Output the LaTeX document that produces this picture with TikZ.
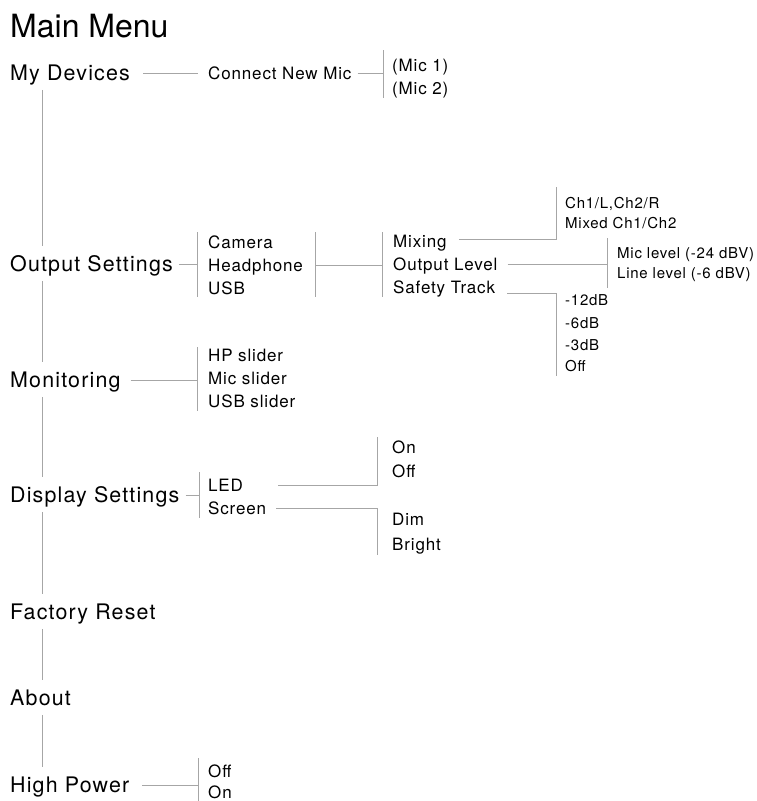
\documentclass[tikz,border=0pt]{standalone}
\usepackage{fontspec}
\setmainfont{TeX Gyre Heros}
\newfontfamily\trk[LetterSpace=5.5]{TeX Gyre Heros}
\newfontfamily\trks[LetterSpace=5]{TeX Gyre Heros}
\definecolor{linegray}{HTML}{A6A6A6}
\begin{document}
\begin{tikzpicture}[x=1pt,y=-1pt,
  link/.style={draw=linegray, line width=0.9pt},
  trunk/.style={link, shorten <=9pt, shorten >=10pt},
  title/.style={anchor=west, inner sep=0pt, font=\fontsize{32}{36}\selectfont, text height=23pt, text depth=0pt},
  lone/.style={anchor=west, inner sep=0pt, font=\trk\fontsize{21.4}{25}\selectfont, text height=15.4pt, text depth=0pt},
  ltwo/.style={anchor=west, inner sep=0pt, font=\trks\fontsize{17}{20}\selectfont, text height=12.2pt, text depth=0pt},
  lthree/.style={anchor=west, inner sep=0pt, font=\trks\fontsize{15}{18}\selectfont, text height=10.8pt, text depth=0pt}]
\useasboundingbox (0,0) rectangle (757,801);
% level 1
\node[title] (mm) at (10,25.5) {Main Menu};
\node[lone] (md) at (10,73) {My Devices};
\node[lone] (os) at (10,264) {Output Settings};
\node[lone] (mon) at (10,380) {Monitoring};
\node[lone] (ds) at (10,495) {Display Settings};
\node[lone] (fr) at (10,612) {Factory Reset};
\node[lone] (ab) at (10,698) {About};
\node[lone] (hp) at (10,785) {High Power};
% My Devices
\node[ltwo] (cnm) at (208,73) {Connect New Mic};
\node[ltwo] (m1) at (392,65) {(Mic 1)};
\node[ltwo] (m2) at (392,88) {(Mic 2)};
% Output Settings
\node[ltwo] (cam) at (208,242) {Camera};
\node[ltwo] (hph) at (208,265) {Headphone};
\node[ltwo] (usb) at (208,288) {USB};
\node[ltwo] (mix) at (393,241) {Mixing};
\node[ltwo] (ol) at (393,264) {Output Level};
\node[ltwo] (st) at (393,287) {Safety Track};
\node[lthree] (c1) at (565,203) {Ch1/L,Ch2/R};
\node[lthree] (c2) at (565,223) {Mixed Ch1/Ch2};
\node[lthree] (ml) at (617,253) {Mic level (-24 dBV)};
\node[lthree] (ll) at (617,273) {Line level (-6 dBV)};
\node[lthree] (d12) at (565,300) {-12dB};
\node[lthree] (d6) at (565,323) {-6dB};
\node[lthree] (d3) at (565,345) {-3dB};
\node[lthree] (doff) at (565,366) {Off};
% Monitoring
\node[ltwo] (hps) at (208,355) {HP slider};
\node[ltwo] (mcs) at (208,378) {Mic slider};
\node[ltwo] (uss) at (208,401) {USB slider};
% Display Settings
\node[ltwo] (led) at (208,485) {LED};
\node[ltwo] (scr) at (208,508) {Screen};
\node[ltwo] (on) at (392,447) {On};
\node[ltwo] (off) at (392,471) {Off};
\node[ltwo] (dim) at (392,519) {Dim};
\node[ltwo] (bri) at (392,544) {Bright};
% High Power
\node[ltwo] (hoff) at (208,771) {Off};
\node[ltwo] (hon) at (208,792.5) {On};

% bracket coordinates
\coordinate (tr) at (42,0);
\coordinate (bmT) at (383,50);   \coordinate (bmB) at (383,98);
\coordinate (boT) at (197,232);  \coordinate (boB) at (197,297);
\coordinate (bcT) at (315,232);  \coordinate (bcB) at (315,297);
\coordinate (bxT) at (382,232);  \coordinate (bxB) at (382,297);
\coordinate (bchT) at (556,187);
\coordinate (blT) at (607,238);  \coordinate (blB) at (607,288);
\coordinate (bsB) at (556,376);
\coordinate (bnT) at (197,347);  \coordinate (bnB) at (197,411);
\coordinate (bdT) at (199,472);  \coordinate (bdB) at (199,518);
\coordinate (beT) at (377,437);
\coordinate (bsc) at (377,555);
\coordinate (bhT) at (198,758);  \coordinate (bhB) at (198,801);

% trunk
\draw[trunk] (md.south -| tr) -- (os.north -| tr);
\draw[trunk] (os.south -| tr) -- (mon.north -| tr);
\draw[trunk] (mon.south -| tr) -- (ds.north -| tr);
\draw[trunk] (ds.south -| tr) -- (fr.north -| tr);
\draw[trunk] (fr.south -| tr) -- (ab.north -| tr);
\draw[trunk] (ab.south -| tr) -- (hp.north -| tr);

% My Devices
\draw[link] ([xshift=13pt]md.east) -- ([xshift=-10pt]cnm.west);
\draw[link] ([xshift=6pt]cnm.east) -- (cnm.east -| bmT);
\draw[link] (bmT) -- (bmB);

% Output Settings
\draw[link] ([xshift=6pt]os.east) -- (os.east -| boT);
\draw[link] (boT) -- (boB);
\draw[link] (bcT) -- (bcB);
\draw[link] (hph.east -| bcT) -- (hph.east -| bxT);
\draw[link] (bxT) -- (bxB);
\draw[link] ([xshift=12pt,yshift=2pt]mix.east) -- ([yshift=2pt]mix.east -| bchT) -- (bchT);
\draw[link] ([xshift=10pt]ol.east) -- (ol.east -| blT);
\draw[link] (blT) -- (blB);
\draw[link] ([xshift=12pt]st.south east) -- (st.south -| bsB) -- (bsB);

% Monitoring
\draw[link] ([xshift=10pt]mon.east) -- (mon.east -| bnT);
\draw[link] (bnT) -- (bnB);

% Display Settings
\draw[link] ([xshift=6pt]ds.east) -- (ds.east -| bdT);
\draw[link] (bdT) -- (bdB);
\draw[link] ([xshift=35pt]led.east) -- (led.east -| beT) -- (beT);
\draw[link] ([xshift=10pt]scr.east) -- (scr.east -| bsc) -- (bsc);

% High Power
\draw[link] ([xshift=13pt]hp.east) -- (hp.east -| bhT);
\draw[link] (bhT) -- (bhB);
\end{tikzpicture}
\end{document}
